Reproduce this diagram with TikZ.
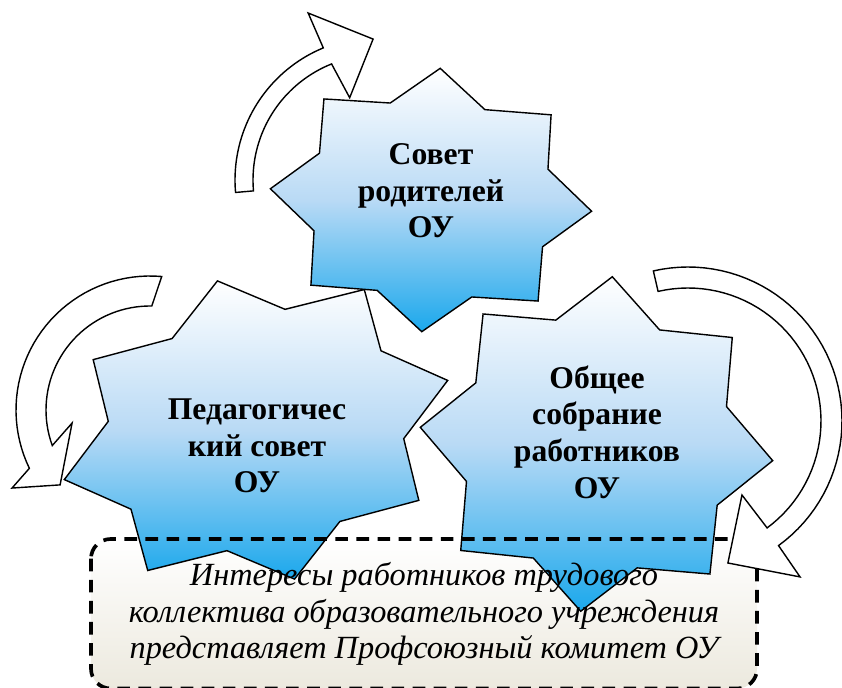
\documentclass[tikz,border=0pt]{standalone}
\usepackage{fontspec}
\setmainfont{Liberation Serif}
\definecolor{starblue}{RGB}{27,168,236}
\definecolor{starmid}{RGB}{185,218,245}
\definecolor{boxbeige}{RGB}{236,233,222}
\begin{document}
\begin{tikzpicture}[x=0.025cm,y=-0.025cm,
  declare function={rr(\k)=isodd(\k)?0.77:1;}]

  \tikzstyle{starbox}=[draw=black,line width=1pt,top color=white,
                       bottom color=starblue,middle color=starmid]
  \tikzstyle{roundarrow}=[draw=black,line width=1pt,fill=white]
  \tikzstyle{startext}=[align=center,inner sep=0pt,
                        font=\fontsize{22.5}{26}\selectfont\bfseries]
  \tikzstyle{boxtext}=[align=center,inner sep=0pt,
                       font=\fontsize{23}{26}\selectfont\itshape]
  \tikzstyle{boxline}=[draw=black,line width=2.6pt,rounded corners=14pt,
                       dash pattern=on 9pt off 6pt]

  \useasboundingbox (0,0) rectangle (842,688);

  \coordinate (boxnw) at (91,539);
  \coordinate (boxse) at (757,688.5);
  \path[top color=white,bottom color=boxbeige,rounded corners=14pt]
    (boxnw) rectangle (boxse);

  % stars: centre / radii / rotation
  \foreach \cx/\cy/\rx/\ry/\rot in {256/430/198/154/-14.5,
                                    596.5/444/177/168/5.4,
                                    431/200/161/132/4}
    \draw[starbox] plot[samples at={0,...,15}]
      ({\cx+rr(\x)*(\rx*cos(22.5*\x)*cos(\rot)-\ry*sin(22.5*\x)*sin(\rot))},
       {\cy+rr(\x)*(\rx*cos(22.5*\x)*sin(\rot)+\ry*sin(22.5*\x)*cos(\rot))})
      -- cycle;

  \draw[boxline] (boxnw) rectangle (boxse);

  \node[startext] (sovet) at (431,191) {Совет\\родителей\\ОУ};
  \node[startext] (pedsovet) at (257,446) {Педагогичес\\кий совет\\ОУ};
  \node[startext] (sobranie) at (597,432) {Общее\\собрание\\работников\\ОУ};
  \node[boxtext] (profkom) at (424,614) {Интересы работников трудового\\
    коллектива образовательного учреждения\\
    представляет Профсоюзный комитет ОУ};

  \begin{scope}[shift={(378,180)}]
    \draw[roundarrow] plot[domain=175:247.5,samples=40] (\x:143)
      -- (247.3:181) -- (268:141) -- (251:87)
      -- plot[domain=248.2:175,samples=40] (\x:125) -- cycle;
  \end{scope}
  \begin{scope}[shift={(150,410)}]
    \draw[roundarrow] plot[domain=275:154.2,samples=40] (\x:134)
      -- (150.5:158.5) -- (140.2:117) -- (170.5:79)
      -- plot[domain=160:271,samples=40] (\x:104) -- cycle;
  \end{scope}
  \begin{scope}[shift={(688,421)}]
    \draw[roundarrow] plot[domain=257:414,samples=50] (\x:154)
      -- (414.3:192) -- (434.3:147.5) -- (413.9:91.6)
      -- plot[domain=413.5:257,samples=50] (\x:133) -- cycle;
  \end{scope}
\end{tikzpicture}
\end{document}
